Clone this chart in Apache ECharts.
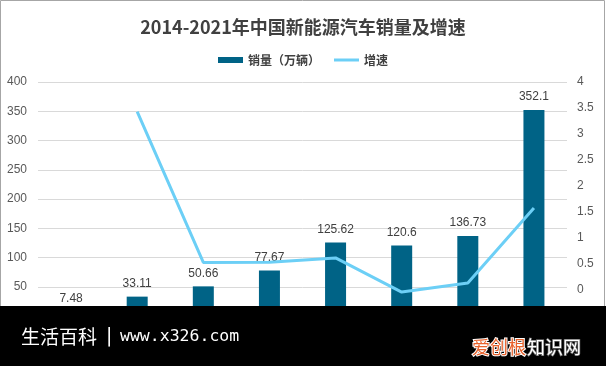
<!DOCTYPE html>
<html><head><meta charset="utf-8">
<script src="https://cdn.jsdelivr.net/npm/echarts@6/dist/echarts.min.js"></script>
<style>html,body{margin:0;padding:0;background:#fff}#c{width:606px;height:366px}</style>
</head><body><div id="c"></div>
<script>
const titleText = '2014-2021年中国新能源汽车销量及增速';
const categories = ['2014','2015','2016','2017','2018','2019','2020','2021'];
const salesName = '销量（万辆）';
const growthName = '增速';
const sales = [7.48, 33.11, 50.66, 77.67, 125.62, 120.6, 136.73, 352.1];
const growth = ['-', 3.43, 0.53, 0.533, 0.617, -0.04, 0.134, 1.575];
const leftAxis = {min: 0, max: 400, interval: 50};
const rightAxis = {min: -0.5, max: 4, interval: 0.5};

const chart = echarts.init(document.getElementById('c'), null, {renderer: 'canvas'});
const cjk = "'Noto Sans CJK SC', sans-serif";
const num = "'Liberation Sans', 'Noto Sans CJK SC', sans-serif";
chart.setOption({
  animation: false,
  backgroundColor: '#fff',
  title: {
    text: titleText, left: 'center', top: 13,
    textStyle: {fontFamily: cjk, fontSize: 18, fontWeight: 'bold', color: '#404040'}
  },
  legend: {
    top: 49, left: 'center', itemWidth: 25, itemHeight: 6, itemGap: 14,
    textStyle: {fontFamily: cjk, fontSize: 12, color: '#404040', fontWeight: 'bold'},
    data: [{name: salesName, icon: 'rect'}, {name: growthName, icon: 'path://M0 0H25V3H0Z'}]
  },
  grid: {left: 38, right: 39, top: 82, bottom: 50},
  xAxis: {
    type: 'category', data: categories,
    axisLine: {show: false}, axisTick: {show: false}, axisLabel: {show: false}
  },
  yAxis: [{
    type: 'value', min: leftAxis.min, max: leftAxis.max, interval: leftAxis.interval,
    axisLine: {show: false}, axisTick: {show: false},
    axisLabel: {fontFamily: num, fontSize: 12, color: '#595959', margin: 11},
    splitLine: {lineStyle: {color: '#d9d9d9', width: 1}}
  }, {
    type: 'value', min: rightAxis.min, max: rightAxis.max, interval: rightAxis.interval,
    axisLine: {show: false}, axisTick: {show: false}, splitLine: {show: false},
    axisLabel: {fontFamily: num, fontSize: 12, color: '#595959', margin: 10,
      formatter: v => v < 0 ? '' : String(v)}
  }],
  series: [{
    name: salesName, type: 'bar', data: sales, barWidth: 21, yAxisIndex: 0,
    itemStyle: {color: '#006386'},
    label: {show: true, position: 'top', distance: 7, fontFamily: num, fontSize: 12, color: '#404040'}
  }, {
    name: growthName, type: 'line', data: growth, yAxisIndex: 1,
    symbol: 'none', showSymbol: false, connectNulls: false,
    lineStyle: {color: '#6ccff6', width: 3}, itemStyle: {color: '#6ccff6'}, z: 3
  }],
  graphic: [
    {type: 'rect', z: 100, shape: {x: 0.5, y: 0.5, width: 604, height: 365}, style: {fill: 'none', stroke: '#a6a6a6', lineWidth: 1}},
    {type: 'rect', z: 101, shape: {x: 0, y: 306, width: 606, height: 60}, style: {fill: '#000'}},
    {type: 'text', z: 102, x: 21, y: 337, style: {text: '生活百科', fill: '#fff', font: "19px 'Noto Sans CJK SC'", verticalAlign: 'middle'}},
    {type: 'text', z: 102, x: 106, y: 337, style: {text: '|', fill: '#fff', font: "19px 'DejaVu Sans'", verticalAlign: 'middle'}},
    {type: 'text', z: 102, x: 120, y: 337, style: {text: 'www.x326.com', fill: '#fff', font: "16.5px 'DejaVu Sans Mono'", verticalAlign: 'middle'}},
    {type: 'text', z: 102, x: 472, y: 347, style: {text: '爱创根', fill: '#e8622c', stroke: '#fff', lineWidth: 2, font: "18px 'Noto Sans CJK SC'", verticalAlign: 'middle'}},
    {type: 'text', z: 102, x: 527, y: 347, style: {text: '知识网', fill: '#fff', stroke: '#666', lineWidth: 1.5, font: "18px 'Noto Sans CJK SC'", verticalAlign: 'middle'}}
  ]
});
</script></body></html>
